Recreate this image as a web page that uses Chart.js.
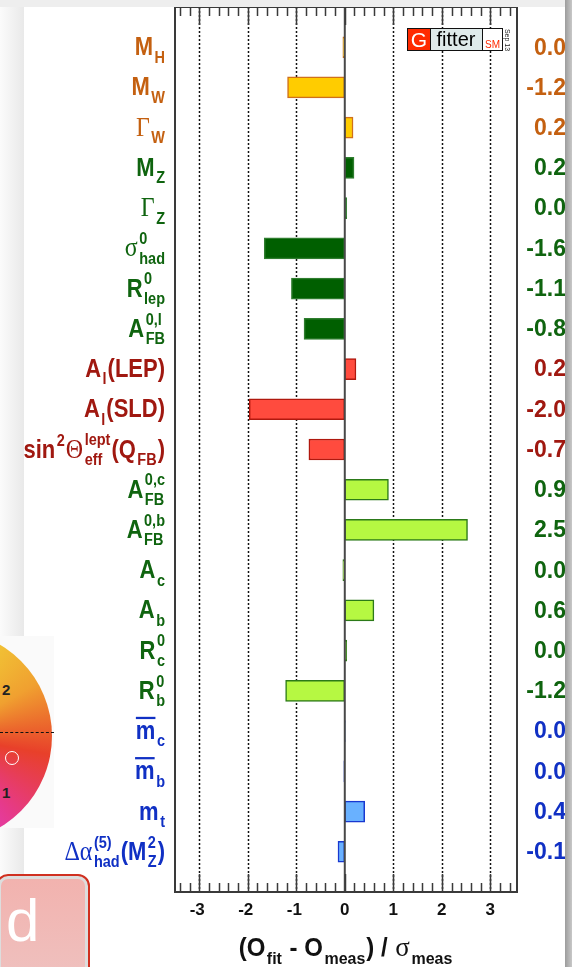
<!DOCTYPE html>
<html>
<head>
<meta charset="utf-8">
<script src="https://cdn.jsdelivr.net/npm/chart.js@4.4.1/dist/chart.umd.min.js"></script>
<style>
  html, body { margin: 0; padding: 0; background: #fff; }
  #wrap { position: relative; width: 572px; height: 967px; overflow: hidden; }
  #pulls { position: absolute; left: 0; top: 0; z-index: 2; }
  .shadowL { position: absolute; left: 0; top: 0; width: 24px; height: 636px;
             background: linear-gradient(to right, #fbfbfb, #e9e9e9); }
  .shadowL2 { position: absolute; left: 0; top: 828px; width: 24px; height: 46px;
              background: linear-gradient(to right, #fbfbfb, #e9e9e9); }
  .topband { position: absolute; left: 0; top: 0; width: 572px; height: 7px; background: #eeeeee; z-index: 3; }
  .rightband { position: absolute; left: 565px; top: 0; width: 7px; height: 967px;
               background: linear-gradient(to right, #9c9c9c, #c8c8c8); z-index: 3; }
  .wheelbox { position: absolute; left: 0; top: 636px; width: 54px; height: 192px; background: #fafafa; overflow: hidden; }
  .wheel { position: absolute; left: -160px; top: -6px; width: 212px; height: 212px; border-radius: 50%;
           background: conic-gradient(from 0deg, #f2e23a, #f0a030 60deg, #e8402a 100deg, #e63a8a 140deg, #e040e6 180deg, #e040e6 360deg); }
  .dash { position: absolute; left: 0; top: 96px; width: 54px; border-top: 1.5px dashed #111; }
  .ring { position: absolute; left: 5px; top: 115px; width: 12px; height: 12px; border: 1.5px solid #fff; border-radius: 50%; }
  .wnum { position: absolute; font: bold 15px "Liberation Sans", Arial, sans-serif; color: #222; }
  .btn { position: absolute; left: -4px; top: 874px; width: 90px; height: 110px; border-radius: 12px;
         border: 2px solid #d03020; background: linear-gradient(#f2b2ae, #efc2c0);
         box-shadow: inset 0 0 0 3px #ddd; }
  .btn span { position: absolute; left: 8px; top: 10px; font: 60px "Liberation Sans", Arial, sans-serif; color: #fff; }
</style>
</head>
<body>
<div id="wrap">
  <div class="shadowL"></div>
  <div class="shadowL2"></div>
  <div class="wheelbox">
    <div class="wheel"></div>
    <div class="dash"></div>
    <div class="ring"></div>
    <div class="wnum" style="left:2px; top:45px;">2</div>
    <div class="wnum" style="left:2px; top:148px;">1</div>
  </div>
  <div class="btn"><span>d</span></div>
  <canvas id="pulls" width="572" height="967"></canvas>
  <div class="topband"></div>
  <div class="rightband"></div>
</div>
<script>
// observables, top to bottom
var names = ['MH', 'MW', 'GW', 'MZ', 'GZ', 'sighad', 'Rlep', 'AFBl', 'AlLEP', 'AlSLD', 'sin2eff',
             'AFBc', 'AFBb', 'Ac', 'Ab', 'Rc', 'Rb', 'mc', 'mb', 'mt', 'dalpha'];

// rich label text: [text, kind, lower] ; kinds: b = bold, g = greek serif, sub, sup, ss = sup over sub, bar = overlined
var labelParts = [
    [['M', 'b'], ['H', 'sub']],
    [['M', 'b'], ['W', 'sub']],
    [['\u0393', 'g'], ['W', 'sub']],
    [['M', 'b'], ['Z', 'sub']],
    [['\u0393', 'g'], ['Z', 'sub']],
    [['\u03c3', 'g'], ['0', 'ss', 'had']],
    [['R', 'b'], ['0', 'ss', 'lep']],
    [['A', 'b'], ['0,l', 'ss', 'FB']],
    [['A', 'b'], ['l', 'sub'], ['(LEP)', 'b']],
    [['A', 'b'], ['l', 'sub'], ['(SLD)', 'b']],
    [['sin', 'b'], ['2', 'sup'], ['\u0398', 'g'], ['lept', 'ss', 'eff'], ['(Q', 'b'], ['FB', 'sub'], [')', 'b']],
    [['A', 'b'], ['0,c', 'ss', 'FB']],
    [['A', 'b'], ['0,b', 'ss', 'FB']],
    [['A', 'b'], ['c', 'sub']],
    [['A', 'b'], ['b', 'sub']],
    [['R', 'b'], ['0', 'ss', 'c']],
    [['R', 'b'], ['0', 'ss', 'b']],
    [['m', 'bar'], ['c', 'sub']],
    [['m', 'bar'], ['b', 'sub']],
    [['m', 'b'], ['t', 'sub']],
    [['\u0394\u03b1', 'g'], ['(5)', 'ss', 'had'], ['(M', 'b'], ['2', 'ss', 'Z'], [')', 'b']]
];

var pulls = [-0.04, -1.18, 0.17, 0.19, 0.04, -1.66, -1.10, -0.84, 0.23, -1.97, -0.74,
             0.90, 2.53, -0.04, 0.60, 0.04, -1.22, 0.01, -0.02, 0.41, -0.14];

var pullText = ['0.0', '-1.2', '0.2', '0.2', '0.0', '-1.6', '-1.1', '-0.8', '0.2', '-2.0', '-0.7',
                '0.9', '2.5', '0.0', '0.6', '0.0', '-1.2', '0.0', '0.0', '0.4', '-0.1'];

var groups = ['ew', 'ew', 'ew', 'z', 'z', 'z', 'z', 'z', 'lep', 'lep', 'lep',
              'hf', 'hf', 'hf', 'hf', 'hf', 'hf', 'q', 'q', 'q', 'q'];

var xTicks = [-3, -2, -1, 0, 1, 2, 3];

var groupStyle = {
    ew:  {fill: '#ffcc00', border: '#d0701a', text: '#c46010'},
    z:   {fill: '#005f00', border: '#2f7d2f', text: '#0f640f'},
    lep: {fill: '#ff4b3e', border: '#b0180e', text: '#a01810'},
    hf:  {fill: '#b6f842', border: '#2c7a18', text: '#0f640f'},
    q:   {fill: '#69b1ff', border: '#1838d0', text: '#1030c4'}
};

// one empty slot above and below the list
var categories = [''].concat(names, ['']);
var padded = [null].concat(pulls, [null]);

var FONT = '"Liberation Sans", Arial, sans-serif';
var SERIF = '"Liberation Serif", "Times New Roman", serif';
var LABEL_SIZE = {b: 22, g: 24, s: 14.5};
var TITLE_SIZE = {b: 24, g: 27, s: 16};

function partFont(kind, sz) {
    if (kind === 'g') return sz.g + 'px ' + SERIF;
    if (kind === 'b' || kind === 'bar') return 'bold ' + sz.b + 'px ' + FONT;
    return 'bold ' + sz.s + 'px ' + FONT;
}

function partWidth(ctx, p, sz) {
    ctx.font = partFont(p[1], sz);
    var w = ctx.measureText(p[0]).width;
    if (p[1] === 'ss') w = Math.max(w, ctx.measureText(p[2]).width);
    return w + (p[1] === 'b' || p[1] === 'g' || p[1] === 'bar' ? 1 : 1.5);
}

function richWidth(ctx, parts, sz) {
    return parts.reduce(function (s, p) { return s + partWidth(ctx, p, sz); }, 0);
}

function drawRich(ctx, parts, x, base, color, sz, stretch) {
    ctx.save();
    ctx.translate(0, base);
    ctx.scale(1, stretch);
    ctx.fillStyle = color;
    ctx.strokeStyle = color;
    ctx.textAlign = 'left';
    ctx.textBaseline = 'alphabetic';
    var dn = sz.s * 0.45, up = sz.s * 0.68;
    parts.forEach(function (p) {
        var w = partWidth(ctx, p, sz);
        ctx.font = partFont(p[1], sz);
        if (p[1] === 'sub') {
            ctx.fillText(p[0], x + 0.5, dn);
        } else if (p[1] === 'sup') {
            ctx.fillText(p[0], x + 0.5, -up);
        } else if (p[1] === 'ss') {
            ctx.fillText(p[0], x + 0.5, -up - 1);
            ctx.fillText(p[2], x + 0.5, dn);
        } else {
            ctx.fillText(p[0], x, 0);
            if (p[1] === 'bar') {
                ctx.lineWidth = 2;
                ctx.beginPath();
                ctx.moveTo(x, -sz.b * 0.85);
                ctx.lineTo(x + w - 1, -sz.b * 0.85);
                ctx.stroke();
            }
        }
        x += w;
    });
    ctx.restore();
}

var pullDecor = {
    id: 'pullDecor',
    beforeDatasetsDraw: function (chart) {
        var ctx = chart.ctx, a = chart.chartArea, xs = chart.scales.x;
        ctx.save();
        ctx.fillStyle = '#fff';
        ctx.fillRect(a.left, a.top, a.right - a.left, a.bottom - a.top);
        ctx.strokeStyle = '#111';
        ctx.lineWidth = 1.5;
        ctx.setLineDash([2, 2]);
        xTicks.forEach(function (v) {
            if (v === 0) return;
            var px = Math.round(xs.getPixelForValue(v)) + 0.5;
            ctx.beginPath();
            ctx.moveTo(px, a.top);
            ctx.lineTo(px, a.bottom);
            ctx.stroke();
        });
        ctx.restore();
    },
    afterDatasetsDraw: function (chart) {
        var ctx = chart.ctx, a = chart.chartArea, xs = chart.scales.x, ys = chart.scales.y;
        ctx.save();
        // zero line
        var x0 = xs.getPixelForValue(0);
        ctx.strokeStyle = '#484848';
        ctx.lineWidth = 2;
        ctx.beginPath();
        ctx.moveTo(x0, a.top);
        ctx.lineTo(x0, a.bottom);
        ctx.stroke();

        // frame
        ctx.strokeStyle = '#3a3a3a';
        ctx.strokeRect(a.left, a.top, a.right - a.left, a.bottom - a.top);

        // ticks on top and bottom, pointing inwards
        ctx.lineWidth = 1.5;
        for (var k = -17; k <= 17; k++) {
            var px = Math.round(xs.getPixelForValue(k / 5)) + 0.5;
            var len = k % 5 === 0 ? 18 : 9;
            ctx.beginPath();
            ctx.moveTo(px, a.top);
            ctx.lineTo(px, a.top + len);
            ctx.moveTo(px, a.bottom);
            ctx.lineTo(px, a.bottom - len);
            ctx.stroke();
        }

        // x tick labels
        ctx.fillStyle = '#111';
        ctx.font = 'bold 17px ' + FONT;
        ctx.textAlign = 'center';
        ctx.textBaseline = 'middle';
        xTicks.forEach(function (v) {
            ctx.fillText(String(v), xs.getPixelForValue(v) - (v < 0 ? 2 : 0), 910);
        });

        // observable names on the left, pull values on the right
        names.forEach(function (n, i) {
            var y = ys.getPixelForValue(i + 1);
            var st = groupStyle[groups[i]];
            var parts = labelParts[i];
            drawRich(ctx, parts, 166 - richWidth(ctx, parts, LABEL_SIZE), y + 8, st.text, LABEL_SIZE, 1.13);
            ctx.fillStyle = st.text;
            ctx.font = 'bold 23px ' + FONT;
            ctx.textAlign = 'right';
            ctx.textBaseline = 'middle';
            ctx.fillText(pullText[i], 566, y + 1);
        });

        // axis title
        var title = [['(O', 'b'], ['fit', 'sub'], [' - O', 'b'], ['meas', 'sub'], [') / ', 'b'], ['\u03c3', 'g'], ['meas', 'sub']];
        var tw = richWidth(ctx, title, TITLE_SIZE);
        drawRich(ctx, title, 346 - tw / 2, 956, '#111', TITLE_SIZE, 1.05);

        // Gfitter logo
        ctx.lineWidth = 1;
        ctx.fillStyle = '#ff2a00';
        ctx.fillRect(407.5, 28.5, 23, 22);
        ctx.fillStyle = '#dfeaea';
        ctx.fillRect(430.5, 28.5, 52, 22);
        ctx.fillStyle = '#fff';
        ctx.fillRect(482.5, 28.5, 20, 22);
        ctx.strokeStyle = '#111';
        ctx.strokeRect(407.5, 28.5, 95, 22);
        ctx.beginPath();
        ctx.moveTo(430.5, 28.5); ctx.lineTo(430.5, 50.5);
        ctx.moveTo(482.5, 28.5); ctx.lineTo(482.5, 50.5);
        ctx.stroke();
        ctx.textAlign = 'center';
        ctx.textBaseline = 'alphabetic';
        ctx.fillStyle = '#fff';
        ctx.font = '21px ' + FONT;
        ctx.fillText('G', 419, 47);
        ctx.fillStyle = '#000';
        ctx.font = '20px ' + FONT;
        ctx.fillText('fitter', 456, 46);
        ctx.fillStyle = '#ff2a00';
        ctx.font = '10px ' + FONT;
        ctx.fillText('SM', 492.5, 48);
        ctx.save();
        ctx.translate(507, 40);
        ctx.rotate(Math.PI / 2);
        ctx.fillStyle = '#222';
        ctx.font = '7px ' + FONT;
        ctx.textBaseline = 'middle';
        ctx.fillText('Sep 13', 0, 0);
        ctx.restore();

        ctx.restore();
    }
};

new Chart(document.getElementById('pulls'), {
    type: 'bar',
    data: {
        labels: categories,
        datasets: [{
            data: padded,
            backgroundColor: [null].concat(groups.map(function (g) { return groupStyle[g].fill; }), [null]),
            borderColor: [null].concat(groups.map(function (g) { return groupStyle[g].border; }), [null]),
            borderWidth: 1.5,
            borderSkipped: false,
            barThickness: 21
        }]
    },
    plugins: [pullDecor],
    options: {
        indexAxis: 'y',
        responsive: false,
        animation: false,
        devicePixelRatio: 1,
        layout: {padding: {left: 175, right: 55, top: 7, bottom: 75}},
        plugins: {legend: {display: false}, tooltip: {enabled: false}},
        scales: {
            x: {type: 'linear', min: -3.5, max: 3.55, display: false},
            y: {type: 'category', offset: false, display: false}
        }
    }
});
</script>
</body>
</html>
